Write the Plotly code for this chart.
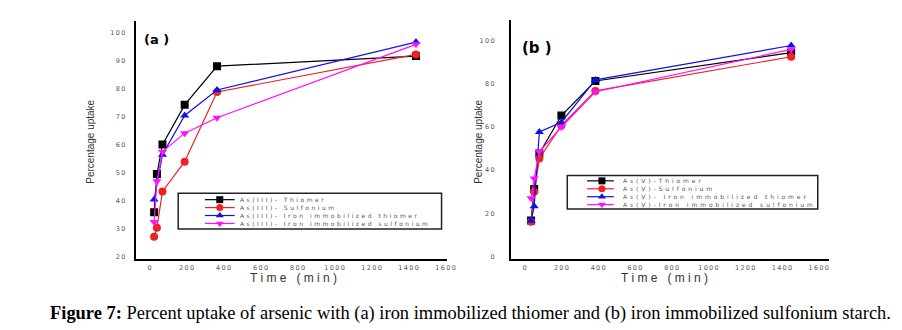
import plotly.graph_objects as go

W, H = 902, 330

# ---------------- data ----------------
time_a = [25, 40, 70, 190, 365, 1440]
time_a_blue = [25, 70, 190, 365, 1440]
a_thiomer = [36.0, 49.6, 60.1, 74.3, 88.1, 91.7]
a_sulfonium = [27.2, 30.4, 43.4, 54.0, 78.9, 92.3]
a_fe_thiomer = [40.5, 56.5, 70.5, 79.6, 96.7]
a_fe_sulfonium = [32.5, 47.0, 57.5, 64.2, 69.7, 95.9]

time_b = [35, 52, 80, 200, 385, 1450]
b_thiomer = [16.7, 31.3, 47.7, 65.3, 81.3, 94.4]
b_sulfonium = [16.2, 30.0, 45.4, 60.7, 76.7, 92.5]
b_fe_thiomer = [16.6, 23.3, 57.7, 62.2, 81.8, 97.7]
b_fe_sulfonium = [27.0, 36.2, 48.5, 60.0, 76.3, 95.9]

names_a = ["As(III)- Thiomer", "As(III)- Sulfonium",
           "As(III)- Iron immobilized thiomer", "As(III)- Iron immobilized sulfonium"]
names_b = ["As(V)-Thiomer", "As(V)-Sulfonium",
           "As(V)- Iron immobilized thiomer", "As(V)-Iron immobilized sulfonium"]

xticks = [0, 200, 400, 600, 800, 1000, 1200, 1400, 1600]
yticks_a = [20, 30, 40, 50, 60, 70, 80, 90, 100]
yticks_b = [0, 20, 40, 60, 80, 100]

colors = ["#000000", "#ee2222", "#1010ee", "#ff10ff"]
symbols = ["square", "circle", "triangle-up", "triangle-down"]

# ---------------- helpers ----------------
SP = "\u2009"


def spaced(s, sep=SP):
    return sep.join(list(s))


def fx(px):
    return px / W


def fy(py):
    return 1 - py / H


fig = go.Figure()

series_a = [(time_a, a_thiomer), (time_a, a_sulfonium),
            (time_a_blue, a_fe_thiomer), (time_a, a_fe_sulfonium)]
series_b = [(time_b, b_thiomer), (time_b, b_sulfonium),
            (time_b, b_fe_thiomer), (time_b, b_fe_sulfonium)]

for i, (t, v) in enumerate(series_a):
    fig.add_trace(go.Scatter(x=t, y=v, mode="lines+markers", name=names_a[i],
                             xaxis="x", yaxis="y", showlegend=False,
                             line=dict(color=colors[i], width=1.2),
                             marker=dict(symbol=symbols[i], size=8, color=colors[i])))
for i, (t, v) in enumerate(series_b):
    fig.add_trace(go.Scatter(x=t, y=v, mode="lines+markers", name=names_b[i],
                             xaxis="x2", yaxis="y2", showlegend=False,
                             line=dict(color=colors[i], width=1.2),
                             marker=dict(symbol=symbols[i], size=8, color=colors[i])))


# ---------------- hand-made compact legends ----------------
def add_legend(box, line_x, mark_x, text_x, rows, names, sep):
    x0, y0, x1, y1 = box
    fig.add_shape(type="rect", xref="paper", yref="paper",
                  x0=fx(x0), x1=fx(x1), y0=fy(y1), y1=fy(y0),
                  line=dict(color="#222222", width=1.5), fillcolor="white", layer="below")
    for i, yy in enumerate(rows):
        fig.add_trace(go.Scatter(x=list(line_x), y=[yy, yy], mode="lines",
                                 xaxis="x3", yaxis="y3", showlegend=False, hoverinfo="skip",
                                 line=dict(color=colors[i], width=1.2)))
        fig.add_trace(go.Scatter(x=[mark_x], y=[yy], mode="markers",
                                 xaxis="x3", yaxis="y3", showlegend=False, hoverinfo="skip",
                                 marker=dict(symbol=symbols[i], size=7, color=colors[i])))
        fig.add_annotation(x=fx(text_x), y=fy(yy), xref="paper", yref="paper",
                           text=spaced(names[i], sep), showarrow=False,
                           xanchor="left", yanchor="middle",
                           font=dict(family="DejaVu Sans", size=6, color="#555555"))


add_legend((180, 195, 446, 231), (207, 237), 222, 240, [201.5, 209.5, 217.5, 225.5],
           names_a, " \u200A")
add_legend((573, 177, 826, 211), (593, 620), 608, 627, [182.5, 190.5, 198.5, 206.5],
           names_b, " \u2006")

tickfont = dict(family="DejaVu Sans", size=6.5, color="#555555")
common_x = dict(showgrid=False, zeroline=False, showline=True, linecolor="black",
                linewidth=2, ticks="", tickvals=xticks,
                ticktext=[spaced(str(v)) for v in xticks], tickfont=tickfont,
                ticklabelstandoff=2)
common_y = dict(showgrid=False, zeroline=False, showline=True, linecolor="black",
                linewidth=2, ticks="", tickfont=tickfont)

fig.update_layout(
    width=W, height=H, margin=dict(l=0, r=0, t=0, b=0),
    paper_bgcolor="white", plot_bgcolor="rgba(0,0,0,0)",
    xaxis=dict(domain=[fx(137), fx(451)], range=[-75, 1605], anchor="y", **common_x),
    yaxis=dict(domain=[fy(261), fy(21)], range=[19.4, 104.3], anchor="x",
               tickvals=yticks_a, ticktext=[spaced(str(v)) for v in yticks_a],
               ticklabelstandoff=7, **common_y),
    xaxis2=dict(domain=[fx(516), fx(837)], range=[-75, 1654], anchor="y2", **common_x),
    yaxis2=dict(domain=[fy(261), fy(20)], range=[-0.92, 109.6], anchor="x2",
                tickvals=yticks_b, ticktext=[spaced(str(v)) for v in yticks_b],
                ticklabelstandoff=13, **common_y),
    xaxis3=dict(domain=[0, 1], range=[0, W], visible=False, anchor="y3", fixedrange=True),
    yaxis3=dict(domain=[0, 1], range=[H, 0], visible=False, anchor="x3", fixedrange=True),
    showlegend=False,
)

# panel labels
fig.add_annotation(x=fx(143), y=fy(40), xref="paper", yref="paper", text="<b>(a )</b>",
                   showarrow=False, xanchor="left", yanchor="middle",
                   font=dict(family="DejaVu Sans", size=13, color="black"))
fig.add_annotation(x=fx(525), y=fy(48), xref="paper", yref="paper", text="<b>(b )</b>",
                   showarrow=False, xanchor="left", yanchor="middle",
                   font=dict(family="DejaVu Sans", size=15, color="black"))

# axis titles
for xc in (92, 484):
    fig.add_annotation(x=fx(xc), y=fy(143), xref="paper", yref="paper",
                       text="Percentage uptake", textangle=-90, showarrow=False,
                       xanchor="center", yanchor="middle",
                       font=dict(family="Liberation Sans", size=10, color="#333333"))
for xc in (296, 671):
    fig.add_annotation(x=fx(xc), y=fy(281), xref="paper", yref="paper",
                       text="T i m e   ( m i n )", showarrow=False,
                       xanchor="center", yanchor="middle",
                       font=dict(family="Liberation Sans", size=12, color="#333333"))

# caption
fig.add_annotation(x=fx(475), y=fy(316), xref="paper", yref="paper",
                   text="<b>Figure 7:</b> Percent uptake of arsenic with (a) iron immobilized thiomer and (b) iron immobilized sulfonium starch.",
                   showarrow=False, xanchor="center", yanchor="middle",
                   font=dict(family="Liberation Serif", size=18.45, color="black"))

fig.write_html("out.html")
